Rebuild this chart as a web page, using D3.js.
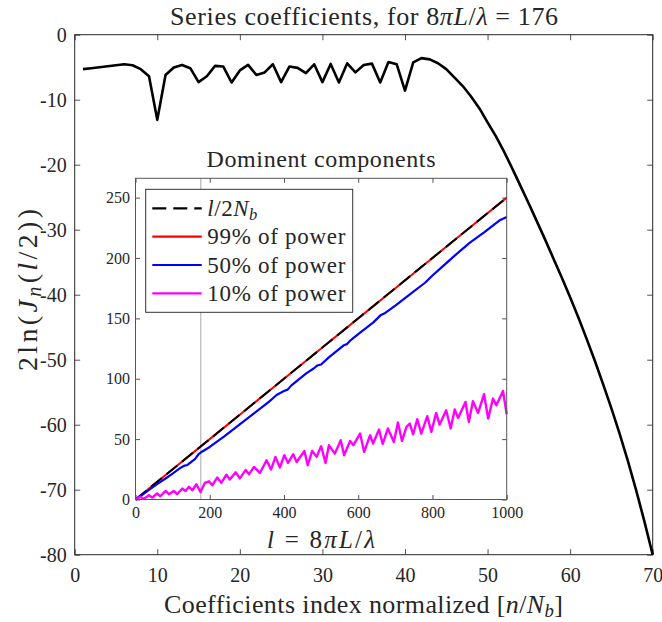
<!DOCTYPE html>
<html><head><meta charset="utf-8">
<script src="https://cdn.jsdelivr.net/npm/d3@7"></script>
<style>
body{margin:0;background:#fff}
svg{display:block}
text{font-family:"Liberation Serif","Times New Roman",serif;fill:#262626}
</style>
</head><body>
<svg id="c" width="662" height="622"></svg>
<script>
// ---------- main series: 2 ln(J_n(l/2)) vs n/N_b ----------
const mainN = [1,2,3,4,5,6,7,8,9,10,11,12,13,14,15,16,17,18,19,20,21,22,23,24,25,26,27,28,29,30,31,32,33,34,35,36,37,38,39,40,41,42,43,44,45,46,47,48,49,50,51,52,53,54,55,56,57,58,59,60,61,62,63,64,65,66,67,68,69,70];
const mainLogJ = [-5.3,-5.15,-5.0,-4.85,-4.7,-4.55,-4.7,-5.3,-6.4,-13.1,-6.2,-5.05,-4.65,-5.15,-7.3,-6.4,-4.8,-4.9,-7.35,-5.5,-4.65,-6.2,-5.8,-4.55,-7.3,-4.9,-5.1,-5.9,-4.55,-7.3,-4.5,-7.35,-4.4,-5.8,-4.65,-4.45,-7.35,-4.2,-4.55,-8.6,-4.25,-3.6,-3.8,-4.4,-5.3,-6.6,-7.9,-9.5,-11.3,-13.5,-15.6,-18.0,-20.6,-23.3,-26.0,-28.8,-31.6,-34.5,-37.4,-40.4,-43.5,-46.8,-50.2,-53.8,-57.5,-61.4,-65.6,-70.1,-74.9,-80.0];
const mainXTicks = [0,10,20,30,40,50,60,70];
const mainYTicks = [0,-10,-20,-30,-40,-50,-60,-70,-80];

// ---------- inset: dominant components vs l ----------
const refL = [0,1000];
const refV = [0,250];                       // l/2N_b
const l99 = [0,100,200,300,400,500,600,700,800,900,1000];
const p99 = [0,25,50,75,100,125,150,175,200,225,250];
const l50 = [0,20,40,60,80,100,120,130,140,160,170,180,200,240,280,320,360,380,400,410,420,440,460,480,490,500,520,540,560,570,580,600,640,660,670,700,740,780,800,820,860,900,940,980,1000];
const p50 = [0,4.2,8.8,13.2,17.2,21.5,26.0,27.8,28.6,33.5,37.5,39.8,43.5,52.5,62.0,71.5,81.0,86.5,89.8,91.0,94.5,99.5,104.5,108.5,111.0,111.8,117.5,122.5,127.5,128.8,132.0,137.0,146.5,152.5,154.0,160.5,170.0,179.5,185.5,191.0,202.0,212.5,221.5,231.0,234.0];
const l10 = [0,13,22,36,45,58,67,81,90,103,112,126,135,144,153,164,175,187,198,207,220,231,245,254,270,281,297,306,319,335,353,365,377,389,401,411,425,434,455,464,476,488,500,512,521,537,553,562,578,587,605,616,632,640,656,666,680,696,707,718,730,739,748,759,770,786,797,810,819,837,849,860,869,889,898,909,923,939,950,963,972,990,1000];
const p10 = [0,2.2,0.5,3.6,1.6,5.0,2.7,7.1,4.4,7.1,4.4,9.1,7.1,10.5,7.7,12.6,6.3,13.8,15.1,11.8,18.2,13.8,20.5,16.5,22.5,17.5,24.5,21.0,27.0,22.0,32.5,24.8,35.3,26.5,36.7,30.3,37.5,31.1,40.2,28.4,40.2,35.3,44.1,30.3,45.0,38.0,49.1,36.7,48.5,45.0,54.6,39.4,53.2,46.3,57.9,46.0,58.8,47.7,63.7,48.5,60.1,62.9,54.0,66.5,54.6,69.0,56.0,71.7,62.0,73.9,58.8,74.5,67.5,80.8,64.2,81.4,71.7,87.2,67.0,83.6,78.0,89.9,70.6];
const markL = 176;
const insetXTicks = [0,200,400,600,800,1000];
const insetYTicks = [0,50,100,150,200,250];
const legendLabels = ["l/2N_b","99% of power","50% of power","10% of power"];
const seriesColors = ["#000000","#ff0000","#0000ff","#ff00ff"];

const svg = d3.select("#c");
svg.append("rect").attr("width",662).attr("height",622).attr("fill","#fff");

function rich(sel, segs){
  segs.forEach(s=>{
    const ts = sel.append("tspan").text(s.t);
    if(s.it) ts.attr("font-style","italic");
    if(s.sub) ts.attr("baseline-shift","-22%").attr("font-size","0.72em");
  });
  return sel;
}

// ----- main axes -----
const X = d3.scaleLinear([0,70],[74.7,652.7]);
const Y = d3.scaleLinear([-80,0],[554.7,34.7]);
const AX = "#262626";
const fmt = d=>String(d);

function styleAxis(g, fs){
  g.select(".domain").remove();
  g.selectAll(".tick line").attr("stroke",AX).attr("stroke-width",0.8);
  g.selectAll(".tick text").attr("fill",AX).attr("font-size",fs)
   .attr("font-family",'"Liberation Serif","Times New Roman",serif');
}
svg.append("g").attr("transform",`translate(0,${Y(-80)})`)
  .call(d3.axisBottom(X).tickValues(mainXTicks).tickFormat(fmt).tickSizeInner(-5.5).tickSizeOuter(0).tickPadding(13))
  .call(g=>styleAxis(g,20));
svg.append("g").attr("transform",`translate(0,${Y(0)})`)
  .call(d3.axisTop(X).tickValues(mainXTicks).tickFormat("").tickSizeInner(-5.5).tickSizeOuter(0))
  .call(g=>styleAxis(g,20));
svg.append("g").attr("transform",`translate(${X(0)},0)`)
  .call(d3.axisLeft(Y).tickValues(mainYTicks).tickFormat(fmt).tickSizeInner(-5.5).tickSizeOuter(0).tickPadding(8))
  .call(g=>styleAxis(g,20));
svg.append("g").attr("transform",`translate(${X(70)},0)`)
  .call(d3.axisRight(Y).tickValues(mainYTicks).tickFormat("").tickSizeInner(-5.5).tickSizeOuter(0))
  .call(g=>styleAxis(g,20));
svg.append("rect").attr("x",X(0)).attr("y",Y(0)).attr("width",X(70)-X(0)).attr("height",Y(-80)-Y(0))
  .attr("fill","none").attr("stroke",AX).attr("stroke-width",1);

// main curve
const mainLine = d3.line().x((d,i)=>X(mainN[i])).y(d=>Y(d));
svg.append("path").attr("d",mainLine(mainLogJ)).attr("fill","none")
  .attr("stroke","#000").attr("stroke-width",2.6).attr("stroke-linejoin","round");

// main texts
rich(svg.append("text").attr("x",364).attr("y",25).attr("text-anchor","middle").attr("font-size",26)
  .attr("textLength",388).attr("lengthAdjust","spacing"),
  [{t:"Series coefficients, for 8"},{t:"π",it:1},{t:"L",it:1},{t:"/"},{t:"λ",it:1},{t:" = 176"}]);
rich(svg.append("text").attr("x",363.5).attr("y",613).attr("text-anchor","middle").attr("font-size",26)
  .attr("textLength",399).attr("lengthAdjust","spacing"),
  [{t:"Coefficients index normalized ["},{t:"n",it:1},{t:"/"},{t:"N",it:1},{t:"b",it:1,sub:1},{t:"]"}]);
rich(svg.append("text").attr("transform","translate(37,290) rotate(-90)").attr("text-anchor","middle").attr("font-size",28)
  .attr("textLength",162).attr("lengthAdjust","spacing"),
  [{t:"2ln("},{t:"J",it:1},{t:"n",it:1,sub:1},{t:"("},{t:"l",it:1},{t:"/2))"}]);

// ----- inset axes -----
const XI = d3.scaleLinear([0,1000],[135.5,506.7]);
const YI = d3.scaleLinear([0,266],[499.5,178.3]);
svg.append("rect").attr("x",XI(0)).attr("y",YI(266)).attr("width",XI(1000)-XI(0)).attr("height",YI(0)-YI(266))
  .attr("fill","#fff");
svg.append("line").attr("x1",XI(markL)).attr("x2",XI(markL)).attr("y1",YI(0)).attr("y2",YI(266))
  .attr("stroke","#a6a6a6").attr("stroke-width",1);

svg.append("g").attr("transform",`translate(0,${YI(0)})`)
  .call(d3.axisBottom(XI).tickValues(insetXTicks).tickFormat(fmt).tickSizeInner(-4.5).tickSizeOuter(0).tickPadding(7))
  .call(g=>styleAxis(g,16));
svg.append("g").attr("transform",`translate(0,${YI(266)})`)
  .call(d3.axisTop(XI).tickValues(insetXTicks).tickFormat("").tickSizeInner(-4.5).tickSizeOuter(0))
  .call(g=>styleAxis(g,16));
svg.append("g").attr("transform",`translate(${XI(0)},0)`)
  .call(d3.axisLeft(YI).tickValues(insetYTicks).tickFormat(fmt).tickSizeInner(-4.5).tickSizeOuter(0).tickPadding(5.5))
  .call(g=>styleAxis(g,16));
svg.append("g").attr("transform",`translate(${XI(1000)},0)`)
  .call(d3.axisRight(YI).tickValues(insetYTicks).tickFormat("").tickSizeInner(-4.5).tickSizeOuter(0))
  .call(g=>styleAxis(g,16));

const lineI = (xs)=>d3.line().x((d,i)=>XI(xs[i])).y(d=>YI(d));
svg.append("path").attr("d",lineI(l99)(p99)).attr("fill","none").attr("stroke",seriesColors[1]).attr("stroke-width",2);
svg.append("path").attr("d",lineI(refL)(refV)).attr("fill","none").attr("stroke",seriesColors[0]).attr("stroke-width",2).attr("stroke-dasharray","14,6");
svg.append("path").attr("d",lineI(l50)(p50)).attr("fill","none").attr("stroke",seriesColors[2]).attr("stroke-width",2.2).attr("stroke-linejoin","round");
svg.append("path").attr("d",lineI(l10)(p10)).attr("fill","none").attr("stroke",seriesColors[3]).attr("stroke-width",2.4).attr("stroke-linejoin","round");

svg.append("rect").attr("x",XI(0)).attr("y",YI(266)).attr("width",XI(1000)-XI(0)).attr("height",YI(0)-YI(266))
  .attr("fill","none").attr("stroke","#555").attr("stroke-width",1);

svg.append("text").attr("x",321).attr("y",167).attr("text-anchor","middle").attr("font-size",24)
  .attr("textLength",229).attr("lengthAdjust","spacing").text("Dominent components");
rich(svg.append("text").attr("x",321).attr("y",548).attr("text-anchor","middle").attr("font-size",25)
  .attr("textLength",108).attr("lengthAdjust","spacing"),
  [{t:"l",it:1},{t:" = 8"},{t:"π",it:1},{t:"L",it:1},{t:"/"},{t:"λ",it:1}]);

// legend
const lg = svg.append("g");
lg.append("rect").attr("x",145.7).attr("y",189.3).attr("width",207).attr("height",123)
  .attr("fill","#fff").attr("stroke","#333").attr("stroke-width",1);
const rowY = [208.3,236.7,265,293.3];
const legendWidths = [50,138,138,138];
legendLabels.forEach((lab,i)=>{
  const ln = lg.append("line").attr("x1",152.3).attr("x2",201.7).attr("y1",rowY[i]).attr("y2",rowY[i])
    .attr("stroke",seriesColors[i]).attr("stroke-width",2.2);
  if(i===0) ln.attr("stroke-dasharray","14,7");
  const t = lg.append("text").attr("x",207.3).attr("y",rowY[i]+7.5).attr("font-size",23)
    .attr("textLength",legendWidths[i]).attr("lengthAdjust","spacing");
  if(i===0) rich(t,[{t:"l",it:1},{t:"/2"},{t:"N",it:1},{t:"b",it:1,sub:1}]);
  else t.text(lab);
});
</script>
</body></html>
